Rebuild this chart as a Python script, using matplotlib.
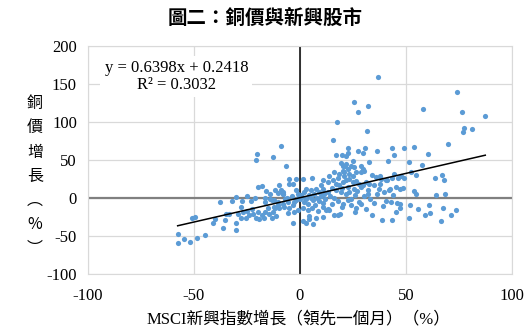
import numpy as np
import matplotlib
matplotlib.use("Agg")
from matplotlib import pyplot as plt


# ----------- data -----------
msci = [
    36.7, 74.3, 25.3, 32.1, 27.4, 58, 76.2, 87.4, 17.5, 31.7, 77.2, 77, 81, 15.6, 69.8,
    22.8, 30.7, 43.4, 49.3, 53.7, -9, 17, 19.8, 27.5, 29.7, 36.5, 44.3, 60.2, -6.5, 32.7,
    41.5, 51.6, 57.4, 63.5, 67.1, 67.7, 53.6, 54.7, 64.2, 68.5, 47, 48.5, 42.1, 44, 32.2,
    36.3, 48.9, 44.3, 43.4, 34.2, 37.7, 37.9, 41.2, 42.5,
    -3.5, 1.6, 2.8, 4.1, 6.1, 16.2, 17.7, 19, 26.6, 31.3, 34.1, 38.5, 43.2, 39.3, 40.8,
    42.9, 45.1, 45.9, 47.2, 47.3, 51.2, 51.7, 55.9, 59.1, 60.8, 61.1, 66.7, 67.6, 71, 73.4,
    35, 20.3, 22.5, 12.1, 13.8,
    -20.3, -20.8, -12.5, -19.7, -18.1, -15.8, -14.2, -11.8, -10.6, -37.6, -32.1, -30,
    -27.5, -25.2, -23.1, -21.1, -16.7, -16.4, -14, -12.1, -51.1, -49.6, -57.7, -54.8,
    -57.6, -51.7, -48.6, -44.7, -40.8, -36.5, -30.2, -30.4, -40, -35.2, -34.9, -33.3,
    -29.2, -27.8, -27.8, -26.7, -25.5, -25.2, -23.9, -22.6, -22, -20.8, -19.7, -19.2,
    -17.9, -16.8, -16.4, -15.3, -14.5, -13.4, -12.6, -11.7, -11.3, -10.6, -8.2,
    -9, -7.9, -13.2, -10.6, -8.2, -5.8, -12.1, -9.8, -7.4, -5, -3.5, -5.8, -2.7, -1.1,
    -1.9, -1.1, 0.5, 2, 2.8, 5.2, 4.4, 6.7, 7.5, 9.1, 10.7, 11.5, -3.5, 1.2, 5.9, 10.7,
    13, 9.9, 15.4, 17, 17.7, 13.8, 16.2, 18.5, 20.1, 20.9, 21.4, 19.3, 21.7, 22.5,
    1.2, 3.6, 5.9, 8.3, 10.7, 13, 4.4, 7.5, 10.7,
    24.8, 21.7, 20.1, 24.1, 25.6, 22.5, 20.9, 23.3, 24.8, 26.4, 28.8, 29.5, 30.3, 28.8,
    35.8, 38.2, 40.6, 46, 47.6, 52.4, 54.7,
    18.5, 20.1, 21.7, 23.3, 24.8, 26.4, 28, 29.5, 31.1, 32.7, 22.5, 25.6, 28.8, 31.9, 35,
    37.4, 39.8, 45.3, 19.3, 21.7,
    -5, -1.9, -5.4, -9.8, -8.2,
    0, 2, 4, 6, 8, 10, 12, 14, 16, 18, 15, 11, 7, 3, -2, -4, -6, -3, 1, 13, 17, 20, 23,
    26, 24, 28, 30, 33, 27, 15, 9, 5, -1, -7, 20, 24, 26, 29,
]
copper = [
    158.8, 139.7, 125.5, 120.3, 113, 116.9, 113.4, 108.2, 99.5, 88.3, 92.2, 87, 90.9, 76.6, 71.4,
    66.2, 66.2, 66, 65, 67, 68.8, 57, 57, 62.3, 59.7, 61.4, 56.2, 57.1, 42.4, 47.5,
    48.4, 46.7, 42.8, 26, 29.9, 23.4, 9.5, 5.6, 4.3, 5.6, 11.2, 12.5, 9.9, 3.4, 5.2,
    5.2, 26, 31.6, 26, 30.3, 28.6, 18.2, 22.9, 11.2,
    -33, -30.4, -33.4, -28.2, -35, -23, -23, -21.7, -13, -15.2, -22.6, -29.5, -29.1, -10.4, -4.4,
    -5.2, -18.2, -7, -13, -7.8, -26.9, -9.6, -14.8, -23, -8.7, -19.5, -30.4, -13, -22.6, -16.5,
    -6.5, -7.8, -3.1, -16, -16,
    58.4, 50.1, 53.2, 14.3, 15.6, 8.6, 5.6, 9.9, 6.9, -5.2, -3.5, 0.8,
    -3.9, 2.6, -3.5, 0, 0, -5.2, -0.9, -3.1, -26.9, -24.7, -47.7, -54.5,
    -59.7, -58, -52.5, -49, -33.4, -39.9, -33.4, -42.5, -27.8, -29.1, -21.7, -20.8,
    -21.7, -26, -12.6, -19.1, -26, -17.4, -22.6, -14.8, -20.8, -26.9, -19.1, -28.2,
    -22.6, -26, -18.2, -13.9, -21.7, -26.9, -19.1, -13.9, -23.4, -9.6, 5.6,
    9.9, 5.6, -3.1, -5.2, -7.4, -5.2, -11.7, -13.9, -11.7, -13.9, -9.6, -20.4, -18.2, -16,
    9.9, 5.6, 3.4, 7.8, 12.1, 9.9, 3.4, 5.6, 12.1, 7.8, 12.1, 5.6, 18.6, 25, 26, 22.9,
    20.8, 16.4, 22.9, 18.6, 26, 29.4, 33.8, 31.6, 35.8, 29.4, 42.3, 45.8, 55.3, 58.8,
    -13.9, -16, -13.9, -17.4, -11.7, -14.8, -23.4, -26.9, -24.7,
    48.8, 44.5, 42.3, 42.3, 40.3, 38, 33.8, 31.6, 29.4, 33.8, 42.3, 38, 35.8, 33.8,
    27.3, 25.1, 22.9, 26, 29.4, 33.8, 30.3,
    16.4, 20.8, 22.9, 25.1, 20.8, 21.6, 18.6, 16.4, 20.8, 18.6, 14.3, 12.1, 14.3, 9.9, 16.4,
    12.1, 7.8, 14.3, 7.8, 5.6,
    25, 24.2, 18.2, 16.4, 7.8,
    -2, -5, -8, -3, 0, 2, -2, 3, 0, -4, -8, -7, -10, -1, -3, 2, 0, -6, 1, 8, 10, 13, 8,
    4, -1, -5, 2, -2, 9, 13, -4, 0, 0, -2, -12, -10, -18, -8,
]

slope = 0.6398
intercept = 0.2418
eq_text = "y = 0.6398x + 0.2418\nR² = 0.3032"

title = "圖二：銅價與新興股市"
xlabel = "MSCI新興指數增長（領先一個月）（%）"
ylabel_chars = ["銅", "價", "增", "長", "︵", "%", "︶"]
# -------- end of data -----

plt.rcParams["axes.unicode_minus"] = False
serif = ["Liberation Serif", "Noto Sans CJK TC"]

fig = plt.figure(figsize=(5.3, 3.3), dpi=100)
ax = fig.add_axes([0.166, 0.170, 0.800, 0.691])

ax.scatter(msci, copper, s=14, color="#5b9bd5", zorder=3, linewidths=0)

xs = np.array([min(msci), max(msci)])
ax.plot(xs, slope * xs + intercept, color="black", lw=1.1, zorder=4)

ax.axhline(0, color="#808080", lw=1.6, zorder=2)
ax.axvline(0, color="black", lw=1.1, zorder=2)

ax.set_xlim(-100, 100)
ax.set_ylim(-100, 200)
ax.set_xticks([-100, -50, 0, 50, 100])
ax.set_yticks([-100, -50, 0, 50, 100, 150, 200])
ax.grid(True, color="#d9d9d9", lw=0.9, zorder=0)
ax.set_axisbelow(True)
ax.tick_params(axis="y", length=0, pad=8, labelsize=12)
ax.tick_params(axis="x", length=0, pad=10, labelsize=12)
for lab in ax.get_xticklabels() + ax.get_yticklabels():
    lab.set_family(serif)
for sp in ax.spines.values():
    sp.set_color("#d9d9d9")

ax.text(-58.3, 160, eq_text, ha="center", va="center", multialignment="center",
        fontsize=12, family=serif, linespacing=1.1, zorder=5,
        bbox=dict(facecolor="white", edgecolor="none", pad=3))

fig.text(0.5, 0.945, title, ha="center", va="center", fontsize=14,
         fontweight="bold", family=["Noto Sans CJK TC", "DejaVu Sans"])
fig.text(0.563, 0.03, xlabel, ha="center", va="center", fontsize=12, family=serif)
fig.text(0.066, 0.466, "\n".join(ylabel_chars), ha="center", va="center",
         fontsize=11.5, linespacing=1.55, family=["Noto Sans CJK TC", "DejaVu Sans"])

fig.savefig("out.png", dpi=100)
